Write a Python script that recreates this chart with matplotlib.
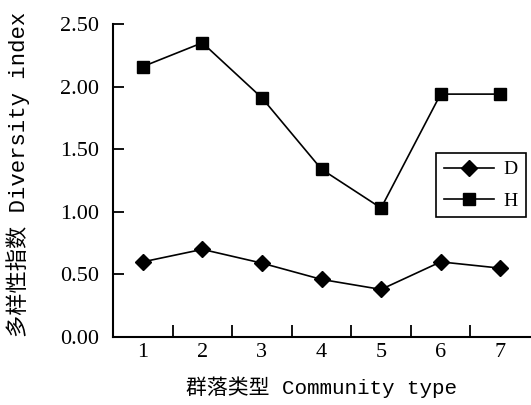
import matplotlib.pyplot as plt
import numpy as np
from matplotlib.ticker import FixedLocator

plt.rcParams['font.family'] = ['Liberation Serif', 'Noto Sans CJK SC']

# data
community = [1, 2, 3, 4, 5, 6, 7]
D = [0.60, 0.70, 0.59, 0.46, 0.38, 0.60, 0.55]
H = [2.16, 2.35, 1.91, 1.34, 1.03, 1.94, 1.94]
y_ticks = [0.0, 0.5, 1.0, 1.5, 2.0, 2.5]

fig = plt.figure(figsize=(5.31, 4.05), dpi=100)
ax = fig.add_axes([113/531, 1 - 337/405, 417/531, 313/405])

ax.plot(community, D, color='black', lw=1.2, marker='D', ms=8.5, label='D')
ax.plot(community, H, color='black', lw=1.2, marker='s', ms=8.5, label='H')

ax.set_xlim(0.5, 7.5)
ax.set_ylim(0, 2.5)

ax.set_yticks(y_ticks)
ax.set_yticklabels([f'{v:.2f}' for v in y_ticks], fontsize=16)
ax.tick_params(axis='y', direction='in', length=8, width=1.3, pad=10)

ax.set_xticks(community)
ax.set_xticklabels([str(c) for c in community], fontsize=16)
ax.tick_params(axis='x', which='major', length=0, pad=4)
ax.xaxis.set_minor_locator(FixedLocator(np.arange(1.5, 7, 1)))
ax.tick_params(axis='x', which='minor', direction='in', length=9, width=1.3)

for s in ['top', 'right']:
    ax.spines[s].set_visible(False)
for s in ['left', 'bottom']:
    ax.spines[s].set_linewidth(1.5)

mixed = ['Liberation Mono', 'Noto Sans CJK SC']
ax.set_ylabel('多样性指数 Diversity index', fontsize=16, family=mixed)
ax.yaxis.set_label_coords(-0.199, 0.52)
ax.set_xlabel('群落类型 Community type', fontsize=15, family=mixed, labelpad=11)

leg = ax.legend(loc='upper right', bbox_to_anchor=(0.99, 0.588), fontsize=14,
                handlelength=2.6, handletextpad=0.5, fancybox=False,
                edgecolor='black', framealpha=1, borderpad=0.4,
                labelspacing=0.7, borderaxespad=0)
leg.get_frame().set_linewidth(1.2)

fig.savefig('out.png', dpi=100)
